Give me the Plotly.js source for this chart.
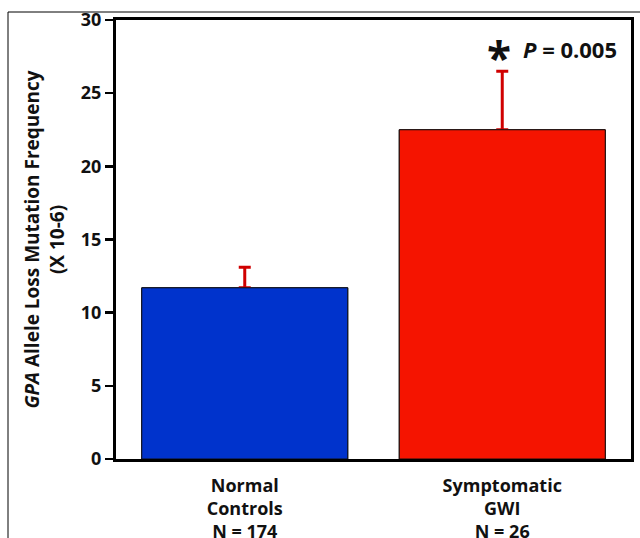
<!DOCTYPE html>
<html><head><meta charset="utf-8">
<script src="https://cdn.plot.ly/plotly-3.0.1.min.js"></script>
<style>html,body{margin:0;padding:0;background:#fff}#chart{width:640px;height:538px}</style>
</head><body><div id="chart"></div>
<script>
const categories = ["<b>Normal</b><br><b>Controls</b><br><b>N = 174</b>", "<b>Symptomatic</b><br><b>GWI</b><br><b>N = 26</b>"];
const means = [11.7, 22.5];
const errorsUp = [1.4, 4.0];
const barColors = ["#0033cc", "#f51400"];
const yTicks = [0, 5, 10, 15, 20, 25, 30];
const fnt = "Open Sans, Lato, sans-serif";

const errTrace = {
  type: "bar", x: categories, y: means,
  marker: {color: barColors, line: {color: "#111", width: 1}},
  error_y: {type: "data", symmetric: false, array: errorsUp, arrayminus: [0, 0], color: "#d00000", thickness: 3, width: 6},
  hoverinfo: "none"
};
const barTrace = {
  type: "bar", x: categories, y: means,
  marker: {color: barColors, line: {color: "#111", width: 1}},
  hoverinfo: "none"
};
const layout = {
  width: 640, height: 538,
  margin: {l: 116, r: 9, t: 20, b: 79},
  paper_bgcolor: "#fff", plot_bgcolor: "#fff",
  bargap: 0.2, barmode: "overlay", showlegend: false,
  font: {family: fnt, color: "#111"},
  xaxis: {showline: true, linewidth: 3, linecolor: "#000", mirror: true, ticks: "", showgrid: false,
    tickfont: {size: 18, family: fnt, color: "#111"}, zeroline: false, ticklabelstandoff: 8},
  yaxis: {range: [0, 30], tickvals: yTicks, ticktext: yTicks.map(v => "<b>" + v + "</b>"),
    showline: true, linewidth: 3, linecolor: "#000", mirror: true, ticks: "outside", ticklen: 8, tickwidth: 2.5, tickcolor: "#000",
    showgrid: false, zeroline: false, tickfont: {size: 18, family: fnt, color: "#111"},
    title: {text: "<b><i>GPA</i> Allele Loss Mutation Frequency</b><br><b>(X 10-6)</b>", font: {size: 19, family: fnt, color: "#111"}, standoff: 12}},
  annotations: [
    {xref: "paper", yref: "paper", x: 0.77, y: 0.93, xanchor: "right", yanchor: "middle", showarrow: false,
      text: "<b>*</b>", font: {size: 44, family: fnt, color: "#111"}, yshift: -6},
    {xref: "paper", yref: "paper", x: 0.977, y: 0.934, xanchor: "right", yanchor: "middle", showarrow: false,
      text: "<b><i>P</i> = 0.005</b>", font: {size: 22, family: fnt, color: "#111"}}
  ],
  shapes: [
    {type: "rect", xref: "paper", yref: "paper", x0: -0.2097, x1: 1.2, y0: -0.3, y1: 1.0182, line: {color: "#000", width: 1}, layer: "below"}
  ]
};
Plotly.newPlot("chart", [errTrace, barTrace], layout, {displayModeBar: false, staticPlot: true});
</script></body></html>
